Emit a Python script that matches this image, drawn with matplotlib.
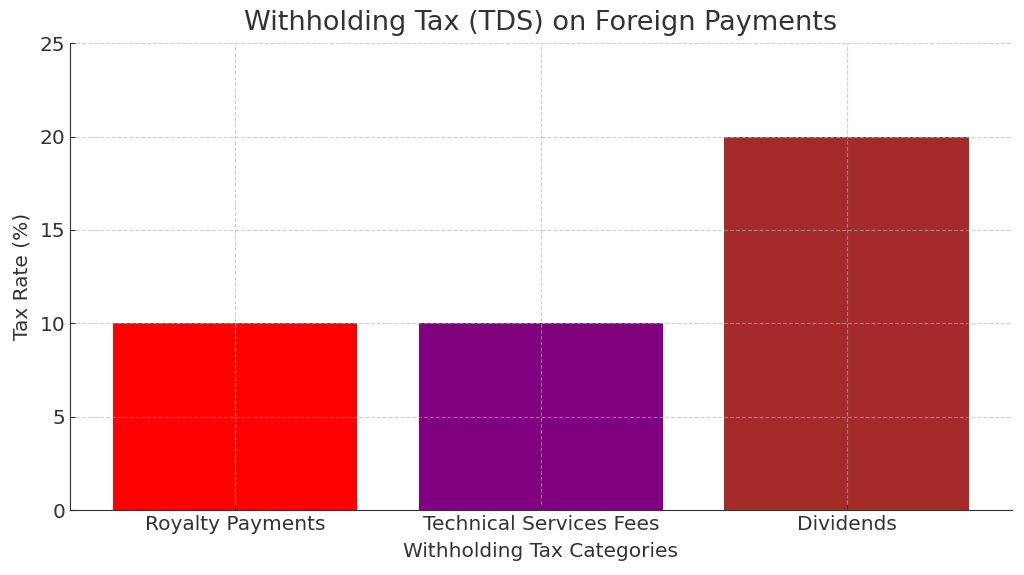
import matplotlib
matplotlib.use("Agg")
import matplotlib.pyplot as plt

categories = ["Royalty Payments", "Technical Services Fees", "Dividends"]
rates = [10, 10, 20]
colors = ["#FF0000", "#800080", "#A52A2A"]
yticks = [0, 5, 10, 15, 20, 25]

plt.rcParams['font.family'] = ['DejaVu Sans']
text_color = "#333333"

fig = plt.figure(figsize=(10.24, 5.75), dpi=100)
ax = fig.add_axes([0.0684, 0.113, 0.9196, 0.812])
ax.bar(categories, rates, color=colors, width=0.8)
ax.set_ylim(0, 25)
ax.set_yticks(yticks)
ax.set_title("Withholding Tax (TDS) on Foreign Payments", fontsize=19.5, color=text_color, pad=9.5)
ax.set_xlabel("Withholding Tax Categories", fontsize=14.5, color=text_color, labelpad=6)
ax.set_ylabel("Tax Rate (%)", fontsize=14.5, color=text_color, labelpad=6)
ax.tick_params(axis='both', labelsize=14.5, colors=text_color, direction='in')
ax.grid(True, linestyle='--', alpha=0.6)
for s in ['top', 'right']:
    ax.spines[s].set_visible(False)
for s in ['left', 'bottom']:
    ax.spines[s].set_color(text_color)

fig.savefig("out.png", dpi=100)
